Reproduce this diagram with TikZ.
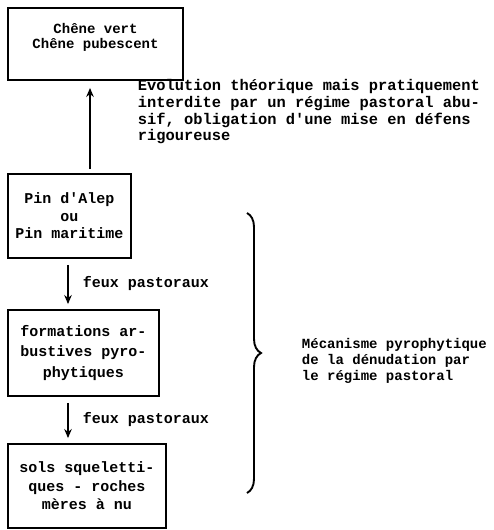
\documentclass[tikz,border=0pt]{standalone}
\usepackage{fontspec}
\setmonofont{Liberation Mono}
\usetikzlibrary{arrows.meta,decorations.pathreplacing}
\newcommand{\machine}[2]{\ttfamily\bfseries\fontsize{#1}{#2}\selectfont}
\begin{document}
\begin{tikzpicture}[x=1pt,y=-1pt,>={Stealth[length=9pt,width=7.5pt]},line width=1.9pt,font=\machine{15}{17.5},
		boite/.style={draw,align=center,inner sep=0pt},
		texte/.style={align=left,inner sep=0pt,anchor=west}]
			% --- Cadre de la figure ---
			\useasboundingbox (0,0) rectangle (494,530);
			% --- Boîtes ---
			\node[boite,minimum width=175pt,minimum height=72pt,text depth=16pt,font=\machine{14}{15.5}] (chene) at (95.5,44) {Chêne vert\\Chêne pubescent};
			\node[boite,minimum width=123pt,minimum height=84pt] (pin) at (69.5,216) {Pin d'Alep\\ou\\Pin maritime};
			\node[boite,minimum width=151pt,minimum height=86pt,font=\machine{15}{20.5}] (arbustes) at (83.5,353) {formations ar-\\bustives pyro-\\phytiques};
			\node[boite,minimum width=158pt,minimum height=84pt,font=\machine{15}{18.5}] (sols) at (87,486) {sols squeletti-\\ques - roches\\mères à nu};
			% --- Flèches ---
			\draw[->,shorten <=4pt,shorten >=7pt] ([xshift=20.5pt]pin.north) -- ([xshift=-5.5pt]chene.south);
			\draw[->,shorten <=6pt,shorten >=5pt] ([xshift=-1.5pt]pin.south) -- ([xshift=-15.5pt]arbustes.north)
				node[texte,midway,xshift=14pt] (feu1) {feux pastoraux};
			\draw[->,shorten <=6pt,shorten >=5pt] ([xshift=-15.5pt]arbustes.south) -- ([xshift=-19pt]sols.north)
				node[texte,midway,xshift=14pt] (feu2) {feux pastoraux};
			% --- Textes ---
			\node[texte,font=\machine{15.4}{16.7}] (evolution) at (137,112) {Evolution théorique mais pratiquement\\interdite par un régime pastoral abu-\\sif, obligation d'une mise en défens\\rigoureuse};
			% --- Accolade ---
			\coordinate (haut) at (247,213);
			\coordinate (bas) at (247,493);
			\draw[decorate,decoration={brace,amplitude=14pt}] (haut) -- (bas);
			\node[texte,font=\machine{14}{16}] (mecanisme) at (301,361) {Mécanisme pyrophytique\\de la dénudation par\\le régime pastoral};
		\end{tikzpicture}
\end{document}
